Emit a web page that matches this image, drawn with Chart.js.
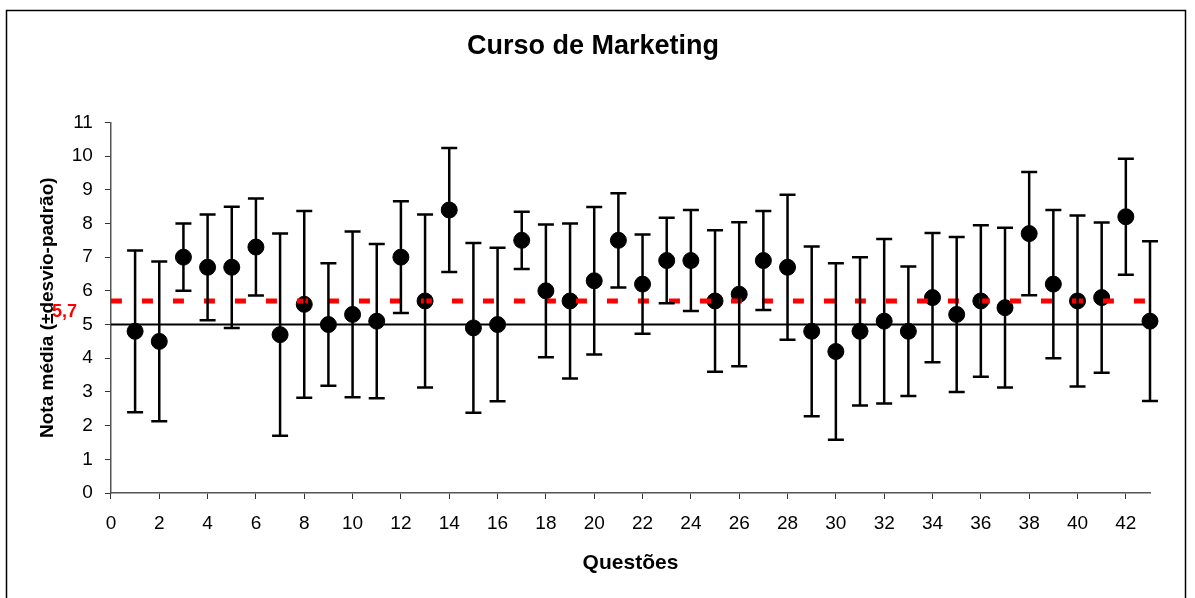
<!DOCTYPE html>
<html>
<head>
<meta charset="utf-8">
<script src="https://cdn.jsdelivr.net/npm/chart.js@4/dist/chart.umd.min.js"></script>
<style>
  html, body { margin: 0; padding: 0; background: #fff; }
  #wrap { width: 1195px; height: 598px; }
</style>
</head>
<body>
<div id="wrap"><canvas id="chart" width="1195" height="598"></canvas></div>
<script>
// Questões 1..43
const questoes = [1, 2, 3, 4, 5, 6, 7, 8, 9, 10, 11, 12, 13, 14, 15, 16, 17, 18, 19, 20, 21, 22,
  23, 24, 25, 26, 27, 28, 29, 30, 31, 32, 33, 34, 35, 36, 37, 38, 39, 40, 41, 42, 43];
const medias = [4.8, 4.5, 7.0, 6.7, 6.7, 7.3, 4.7, 5.6, 5.0, 5.3, 5.1, 7.0, 5.7, 8.4, 4.9, 5.0,
  7.5, 6.0, 5.7, 6.3, 7.5, 6.2, 6.9, 6.9, 5.7, 5.9, 6.9, 6.7, 4.8, 4.2, 4.8, 5.1, 4.8, 5.8,
  5.3, 5.7, 5.5, 7.7, 6.2, 5.7, 5.8, 8.2, 5.1];
const desvios = [2.4, 2.37, 1.0, 1.57, 1.8, 1.44, 3.0, 2.77, 1.82, 2.46, 2.29, 1.66, 2.57, 1.84,
  2.52, 2.28, 0.85, 1.97, 2.3, 2.19, 1.4, 1.47, 1.27, 1.5, 2.1, 2.14, 1.47, 2.15, 2.52, 2.62,
  2.2, 2.44, 1.92, 1.92, 2.3, 2.25, 2.37, 1.83, 2.2, 2.54, 2.23, 1.72, 2.37];
const xTicks = [0, 2, 4, 6, 8, 10, 12, 14, 16, 18, 20, 22, 24, 26, 28, 30, 32, 34, 36, 38, 40, 42];
const notaMinima = 5;
const mediaGeral = 5.7;
const xMax = 43;

const fonte = "Arial, 'Liberation Sans', sans-serif";

// draws the ± SD whiskers through the scales
const errorBars = {
  id: 'errorBars',
  afterDatasetsDraw(chart) {
    const { ctx, scales: { x, y } } = chart;
    ctx.save();
    ctx.strokeStyle = '#000';
    ctx.lineWidth = 2.5;
    questoes.forEach((q, i) => {
      const px = x.getPixelForValue(q);
      const top = y.getPixelForValue(medias[i] + desvios[i]);
      const bot = y.getPixelForValue(medias[i] - desvios[i]);
      ctx.beginPath();
      ctx.moveTo(px, top); ctx.lineTo(px, bot);
      ctx.moveTo(px - 8, top); ctx.lineTo(px + 8, top);
      ctx.moveTo(px - 8, bot); ctx.lineTo(px + 8, bot);
      ctx.stroke();
    });
    ctx.restore();
  }
};

// frame + red "5,7" label
const extras = {
  id: 'extras',
  beforeDraw(chart) {
    const ctx = chart.ctx;
    ctx.save();
    ctx.strokeStyle = '#000';
    ctx.lineWidth = 1.5;
    ctx.strokeRect(6.5, 10.5, 1179, 620);
    ctx.restore();
  },
  afterDraw(chart) {
    const { ctx, scales: { y } } = chart;
    ctx.save();
    ctx.fillStyle = '#ff0000';
    ctx.font = 'bold 18px ' + fonte;
    ctx.textAlign = 'left';
    ctx.textBaseline = 'middle';
    ctx.fillText('5,7', 52, y.getPixelForValue(mediaGeral) + 11);
    ctx.restore();
  }
};

new Chart(document.getElementById('chart'), {
  type: 'scatter',
  data: {
    datasets: [
      {
        type: 'line',
        data: [{ x: 0, y: mediaGeral }, { x: xMax, y: mediaGeral }],
        borderColor: '#ff0000',
        borderWidth: 5,
        borderDash: [11, 20],
        pointRadius: 0,
        fill: false
      },
      {
        type: 'line',
        data: [{ x: 0, y: notaMinima }, { x: xMax, y: notaMinima }],
        borderColor: '#000',
        borderWidth: 2,
        pointRadius: 0,
        fill: false
      },
      {
        data: questoes.map((q, i) => ({ x: q, y: medias[i] })),
        backgroundColor: '#000',
        borderColor: '#000',
        pointRadius: 8,
        pointHoverRadius: 8,
        clip: false
      }
    ]
  },
  options: {
    responsive: false,
    animation: false,
    layout: { padding: { left: 36, right: 45, top: 0, bottom: 22 } },
    plugins: {
      legend: { display: false },
      tooltip: { enabled: false },
      title: {
        display: true,
        text: 'Curso de Marketing',
        color: '#000',
        font: { family: fonte, size: 27, weight: 'bold' },
        padding: { top: 30, bottom: 60 }
      }
    },
    scales: {
      x: {
        type: 'linear',
        min: 0,
        max: xMax,
        afterBuildTicks: s => { s.ticks = xTicks.map(v => ({ value: v })); },
        ticks: { color: '#000', font: { family: fonte, size: 19 }, padding: 13, maxRotation: 0, autoSkip: false },
        grid: { drawOnChartArea: false, drawTicks: true, tickLength: 6, color: '#333' },
        border: { display: true, color: '#555', width: 1.5 },
        title: {
          display: true,
          text: 'Questões',
          color: '#000',
          font: { family: fonte, size: 21, weight: 'bold' },
          padding: { top: 3, bottom: 0 }
        }
      },
      y: {
        min: 0,
        max: 11,
        ticks: { stepSize: 1, color: '#000', font: { family: fonte, size: 19 }, padding: 12 },
        grid: { drawOnChartArea: false, drawTicks: true, tickLength: 6, color: '#333' },
        border: { display: true, color: '#555', width: 1.5 },
        title: {
          display: true,
          text: 'Nota média (±desvio-padrão)',
          color: '#000',
          font: { family: fonte, size: 19, weight: 'bold' },
          padding: { top: 0, bottom: 1 }
        }
      }
    }
  },
  plugins: [errorBars, extras]
});
</script>
</body>
</html>
